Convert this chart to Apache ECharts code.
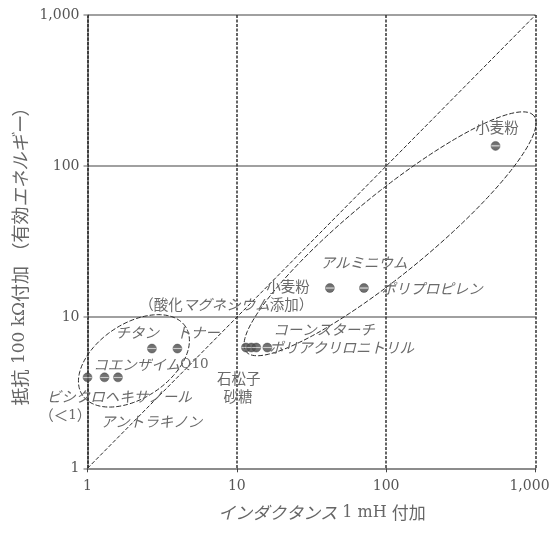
<!DOCTYPE html>
<html>
<head>
<meta charset="utf-8">
<script src="https://cdn.jsdelivr.net/npm/echarts@6/dist/echarts.min.js"></script>
<style>
  html, body { margin: 0; padding: 0; background: #fff; }
  #chart { width: 553px; height: 533px; }
</style>
</head>
<body>
<div id="chart"></div>
<script>
// Minimum ignition: added inductance 1 mH (x) vs added resistance 100 kΩ (y), log-log
const inductance = [1, 1.3, 1.6, 2.7, 4, 11.5, 12.5, 13.5, 16, 42, 71, 540];
const resistance = [4, 4, 4, 6.2, 6.2, 6.3, 6.3, 6.3, 6.3, 15.6, 15.6, 136];

// Axis decades
const decadeTicks = [1, 10, 100, 1000];

// Material names and their anchor points in data units
const labelText = [
  '小麦粉', 'アルミニウム', '小麦粉', 'ポリプロピレン', '（酸化マグネシウム添加）',
  'チタン', 'トナー', 'コーンスターチ', 'ポリアクリロニトリル', 'コエンザイムQ10',
  '石松子', '砂糖', 'ビシクロヘキサノール', '（＜1）', 'アントラキノン'
];
const labelX = [553, 71, 22, 203, 8.5, 2.15, 5.5, 38.4, 50.3, 2.66, 10.3, 10.2, 1.63, 0.71, 2.68];
const labelY = [179, 22.9, 15.9, 15.6, 12.06, 7.87, 7.87, 8.24, 6.26, 4.83, 3.96, 2.97, 2.97, 2.25, 2.03];

// Grouping ellipses, in log10 units: centre, semi-axes, tilt in degrees
const ellipseCx = [0.311, 2.026];
const ellipseCy = [0.711, 1.552];
const ellipseA = [0.413, 1.24];
const ellipseB = [0.247, 0.265];
const ellipseTilt = [33, 39];

// Parity line y = x
const parityEnds = [1, 1000];

const JP = '"Noto Sans CJK JP", "Noto Sans", sans-serif';
const NUM = '"DejaVu Serif", "Liberation Serif", serif';
const labelColor = '#6a6a6a';

// Katakana runs oblique, Latin/digit runs in serif, the rest upright
function toRich(s) {
  return s.replace(/([\u30A0-\u30FF]+)|([A-Za-z0-9<Ω ]+)|([^\u30A0-\u30FFA-Za-z0-9<Ω ]+)/g,
    (m, k, a, n) => k ? '{k|' + k + '}' : (a ? '{a|' + a + '}' : '{n|' + n + '}'));
}
function richStyles(size, color) {
  return {
    k: { fontFamily: JP, fontSize: size, fontStyle: 'italic', fill: color, color: color },
    a: { fontFamily: NUM, fontSize: size - 1, fill: color, color: color },
    n: { fontFamily: JP, fontSize: size, fill: color, color: color }
  };
}

const chart = echarts.init(document.getElementById('chart'), null, { renderer: 'canvas' });

const markerFill = {
  type: 'linear', x: 0, y: 0, x2: 0, y2: 1,
  colorStops: [
    { offset: 0, color: '#404040' },
    { offset: 0.42, color: '#555' },
    { offset: 0.46, color: '#bdbdbd' },
    { offset: 0.54, color: '#bdbdbd' },
    { offset: 0.58, color: '#555' },
    { offset: 1, color: '#404040' }
  ]
};

const tickFmt = v => {
  const s = Number(v).toLocaleString('en-US');
  return v >= decadeTicks[decadeTicks.length - 1] ? '{r|' + s + '}' : s;
};

const option = {
  animation: false,
  backgroundColor: '#fff',
  grid: { left: 87.5, right: 17.5, top: 15, bottom: 64.7, containLabel: false, outerBoundsMode: 'none' },
  xAxis: {
    type: 'log', logBase: 10, min: decadeTicks[0], max: decadeTicks[decadeTicks.length - 1],
    axisLine: { show: true, onZero: false, lineStyle: { color: '#8c8c8c', width: 2 } },
    axisTick: { show: true, length: 4, lineStyle: { color: '#444', width: 1 } },
    axisLabel: {
      margin: 11, color: '#555', fontFamily: NUM, fontSize: 14,
      formatter: tickFmt,
      rich: { r: { fontFamily: NUM, fontSize: 14, color: '#555', padding: [0, 12, 0, 0] } }
    },
    splitLine: { show: true, showMinLine: true, showMaxLine: true,
      lineStyle: { color: '#333', width: 1.5, type: [3, 1.5] } },
    minorTick: { show: false }, minorSplitLine: { show: false }
  },
  yAxis: {
    type: 'log', logBase: 10, min: decadeTicks[0], max: decadeTicks[decadeTicks.length - 1],
    axisLine: { show: true, lineStyle: { color: '#333', width: 1.5, type: [3, 1.5] } },
    axisTick: { show: true, length: 4, lineStyle: { color: '#999', width: 1.5 } },
    axisLabel: {
      margin: 8, color: '#555', fontFamily: NUM, fontSize: 14,
      formatter: v => Number(v).toLocaleString('en-US')
    },
    splitLine: { show: true, showMinLine: true, showMaxLine: true,
      lineStyle: { color: '#a0a0a0', width: 2, type: 'solid' } }
  },
  graphic: [
    {
      type: 'text', x: 322, y: 513, z: 10,
      style: {
        text: toRich('インダクタンス 1 mH 付加'), align: 'center', verticalAlign: 'middle',
        rich: richStyles(17, '#666')
      }
    },
    {
      type: 'text', x: 20, y: 252, rotation: Math.PI / 2, z: 10,
      style: {
        text: toRich('抵抗 100 kΩ付加 （有効エネルギー）'), align: 'center', verticalAlign: 'middle',
        rich: richStyles(18, '#666')
      }
    }
  ],
  series: [
    {
      type: 'line',
      data: parityEnds.map(v => [v, v]),
      symbol: 'none', silent: true, z: 2,
      lineStyle: { color: '#2a2a2a', width: 1, type: [4, 2] }
    },
    {
      type: 'custom', z: 2, silent: true, clip: false,
      data: ellipseCx.map((_, i) => [i]),
      renderItem: function (params, api) {
        const i = api.value(0);
        const th = ellipseTilt[i] * Math.PI / 180;
        const pts = [];
        for (let s = 0; s <= 180; s++) {
          const t = s / 180 * Math.PI * 2;
          const lx = ellipseCx[i] + ellipseA[i] * Math.cos(t) * Math.cos(th) - ellipseB[i] * Math.sin(t) * Math.sin(th);
          const ly = ellipseCy[i] + ellipseA[i] * Math.cos(t) * Math.sin(th) + ellipseB[i] * Math.sin(t) * Math.cos(th);
          pts.push(api.coord([Math.pow(10, lx), Math.pow(10, ly)]));
        }
        return {
          type: 'polyline',
          shape: { points: pts },
          style: { stroke: '#2a2a2a', lineWidth: 1, fill: null, lineDash: [5, 2] }
        };
      }
    },
    {
      type: 'scatter', z: 4,
      data: inductance.map((x, i) => [x, resistance[i]]),
      symbol: 'circle', symbolSize: 9,
      itemStyle: { color: markerFill, borderColor: '#444', borderWidth: 0.5 }
    },
    {
      type: 'custom', z: 5, silent: true, clip: false,
      data: labelText.map((_, i) => [labelX[i], labelY[i], i]),
      renderItem: function (params, api) {
        const p = api.coord([api.value(0), api.value(1)]);
        const i = api.value(2);
        return {
          type: 'text', x: p[0], y: p[1],
          style: {
            text: toRich(labelText[i]), align: 'center', verticalAlign: 'middle',
            rich: richStyles(14.5, labelColor)
          }
        };
      }
    }
  ]
};

chart.setOption(option);
</script>
</body>
</html>
